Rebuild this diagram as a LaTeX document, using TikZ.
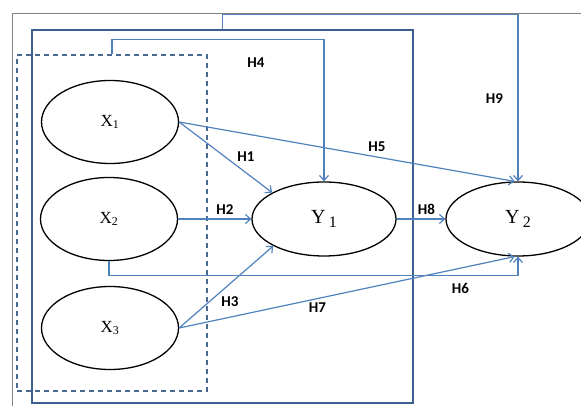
\documentclass[tikz,border=0pt]{standalone}
\usepackage{fontspec}
\setmainfont{Liberation Serif}
\newfontfamily\hfont{Carlito}
\usetikzlibrary{arrows.meta, positioning, shapes.geometric}

\definecolor{pathblue}{RGB}{79,129,189}
\definecolor{frameblue}{RGB}{62,96,145}
\definecolor{groupblue}{RGB}{74,105,145}

\begin{document}
\begin{tikzpicture}[
    x=1pt, y=-1pt,               % Pixelraster des Originals
    xvar/.style={draw, ellipse, line width=1.3pt, minimum width=137pt, minimum height=83pt, inner sep=0pt, font=\fontsize{17}{17}\selectfont},
    yvar/.style={draw, ellipse, line width=1.3pt, minimum width=144pt, minimum height=74pt, inner sep=0pt, font=\fontsize{20}{20}\selectfont},
    model/.style={draw=frameblue, line width=2.8pt, minimum width=381pt, minimum height=373pt, inner sep=0pt},
    group/.style={draw=groupblue, line width=1.2pt, dash pattern=on 5pt off 4pt, minimum width=190pt, minimum height=336pt, inner sep=0pt},
    hyp/.style={-{Straight Barb[length=5pt,width=9pt]}, draw=pathblue, line width=1.2pt},
    hlab/.style={font=\hfont\bfseries\fontsize{15}{15}\selectfont, inner sep=0pt}
  ]

  \clip (0,0) rectangle (581,406);

  % aeusserer Rahmen (nur oben und links sichtbar)
  \draw[gray, line width=1pt] (12,406) -- (12,14) -- (581,14);

  % Modellrahmen und gestrichelte Gruppe der X-Variablen
  \node[model] (mdl) at (222.5,216.5) {};
  \node[group] (grp) at (112,223)     {};

  % Konstrukte
  \node[xvar] (x1) at (110,122) {X\textsubscript{1}};
  \node[xvar] (x2) at (109,219) {X\textsubscript{2}};
  \node[xvar] (x3) at (110,328) {X\textsubscript{3}};
  \node[yvar] (y1) at (324,219) {Y\,\raisebox{-4pt}{\fontsize{16}{16}\selectfont 1}};
  \node[yvar] (y2) at (518,219) {Y\,\raisebox{-4pt}{\fontsize{16}{16}\selectfont 2}};

  % Hypothesenpfade
  \draw[hyp] (x1.east) -- (y1.153);
  \draw[hyp] (x2.east) -- (y1.west);
  \draw[hyp] (x3.east) -- (y1.208);
  \draw[hyp] (grp.north) -- ++(0,-15) -| (y1.north);
  \draw[hyp] (x1.east) -- (y2.95);
  \draw[hyp] (x2.south) -- ++(0,14) -| (y2.south);
  \draw[hyp] (x3.east) -- (y2.265);
  \draw[hyp] (y1.east) -- (y2.west);
  \draw[hyp] (mdl.north) -- ++(0,-14) -| (y2.north);

  % Beschriftungen
  \node[hlab] (h1) at (246,157)   {H1};
  \node[hlab] (h2) at (225,210)   {H2};
  \node[hlab] (h3) at (230,302)   {H3};
  \node[hlab] (h4) at (256,63)    {H4};
  \node[hlab] (h5) at (377,147)   {H5};
  \node[hlab] (h6) at (460.5,288) {H6};
  \node[hlab] (h7) at (317.5,308) {H7};
  \node[hlab] (h8) at (426.5,209) {H8};
  \node[hlab] (h9) at (494.5,99)  {H9};

\end{tikzpicture}
\end{document}
